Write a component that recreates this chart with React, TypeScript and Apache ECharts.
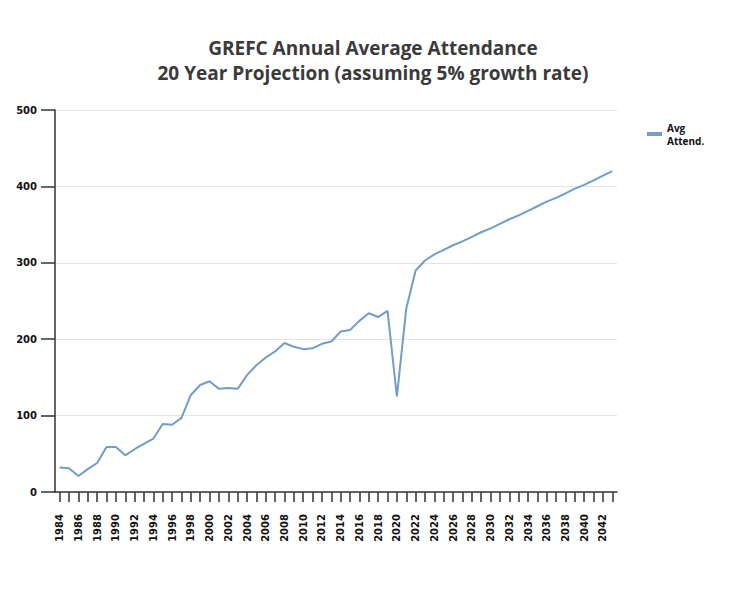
import React, { useEffect, useRef } from "react";
import * as echarts from "echarts";

const years: string[] = [];
for (let y = 1984; y <= 2043; y++) years.push(String(y));

const avgAttend = [
  32, 31, 21, 30, 38, 59, 59, 48, 56, 63,
  70, 89, 88, 97, 127, 140, 145, 135, 136, 135,
  153, 166, 176, 184, 195, 190, 187, 188, 194, 197,
  210, 212, 224, 234, 229, 237, 125, 240, 290, 303,
  311, 317, 323, 328, 334, 340, 345, 351, 357, 362,
  368, 374, 380, 385, 391, 397, 402, 408, 414, 420,
];

const titleLines = [
  "GREFC Annual Average Attendance",
  "20 Year Projection (assuming 5% growth rate)",
];
const seriesName = "Avg\nAttend.";

export default function App() {
  const ref = useRef<HTMLDivElement>(null);
  useEffect(() => {
    if (!ref.current) return;
    const chart = echarts.init(ref.current, undefined, { renderer: "svg" });
    chart.setOption({
      animation: false,
      backgroundColor: "#ffffff",
      title: {
        text: titleLines.join("\n"),
        left: 368,
        textAlign: "center",
        top: 30,
        textStyle: {
          fontFamily: "Open Sans",
          fontSize: 19,
          fontWeight: "bold",
          color: "#3a3a3a",
          lineHeight: 25,
        },
      },
      legend: {
        left: 642,
        top: 116,
        orient: "vertical",
        itemWidth: 15,
        itemHeight: 4,
        icon: "rect",
        itemGap: 4,
        textStyle: {
          fontFamily: "Open Sans",
          fontSize: 10,
          fontWeight: "bold",
          color: "#111",
          lineHeight: 13,
        },
        data: [seriesName],
      },
      grid: { left: 55, right: 113, top: 110, bottom: 118, containLabel: false },
      xAxis: {
        type: "category",
        data: years,
        boundaryGap: true,
        axisLine: { lineStyle: { color: "#333", width: 1.5 } },
        axisTick: {
          show: true,
          interval: 0,
          alignWithLabel: true,
          length: 10,
          lineStyle: { color: "#333", width: 1.5 },
        },
        axisLabel: {
          interval: 1,
          rotate: 90,
          margin: 22,
          fontFamily: "DejaVu Sans",
          fontSize: 10,
          fontWeight: "bold",
          color: "#111",
        },
      },
      yAxis: {
        type: "value",
        min: 0,
        max: 500,
        interval: 100,
        axisLine: { show: true, lineStyle: { color: "#333", width: 1.5 } },
        axisTick: { show: true, inside: false, length: 14, lineStyle: { color: "#333", width: 1.5 } },
        axisLabel: {
          margin: 18,
          fontFamily: "DejaVu Sans",
          fontSize: 10,
          fontWeight: "bold",
          color: "#111",
        },
        splitLine: { show: true, lineStyle: { color: "#e4e4e4", width: 1 } },
      },
      series: [
        {
          name: seriesName,
          type: "line",
          data: avgAttend,
          symbol: "none",
          lineStyle: { color: "#709dcb", width: 2 },
          itemStyle: { color: "#709dcb" },
        },
      ],
      graphic: [
        { type: "line", z: 100, shape: { x1: 727, y1: 0, x2: 727, y2: 603 }, style: { stroke: "#c8c8c8", lineWidth: 2 } },
        { type: "line", z: 100, shape: { x1: 0, y1: 603, x2: 727, y2: 603 }, style: { stroke: "#d4d4d4", lineWidth: 2 } },
      ],
    });
    return () => chart.dispose();
  }, []);
  return <div ref={ref} style={{ width: 730, height: 610, margin: -8 }} />;
}
